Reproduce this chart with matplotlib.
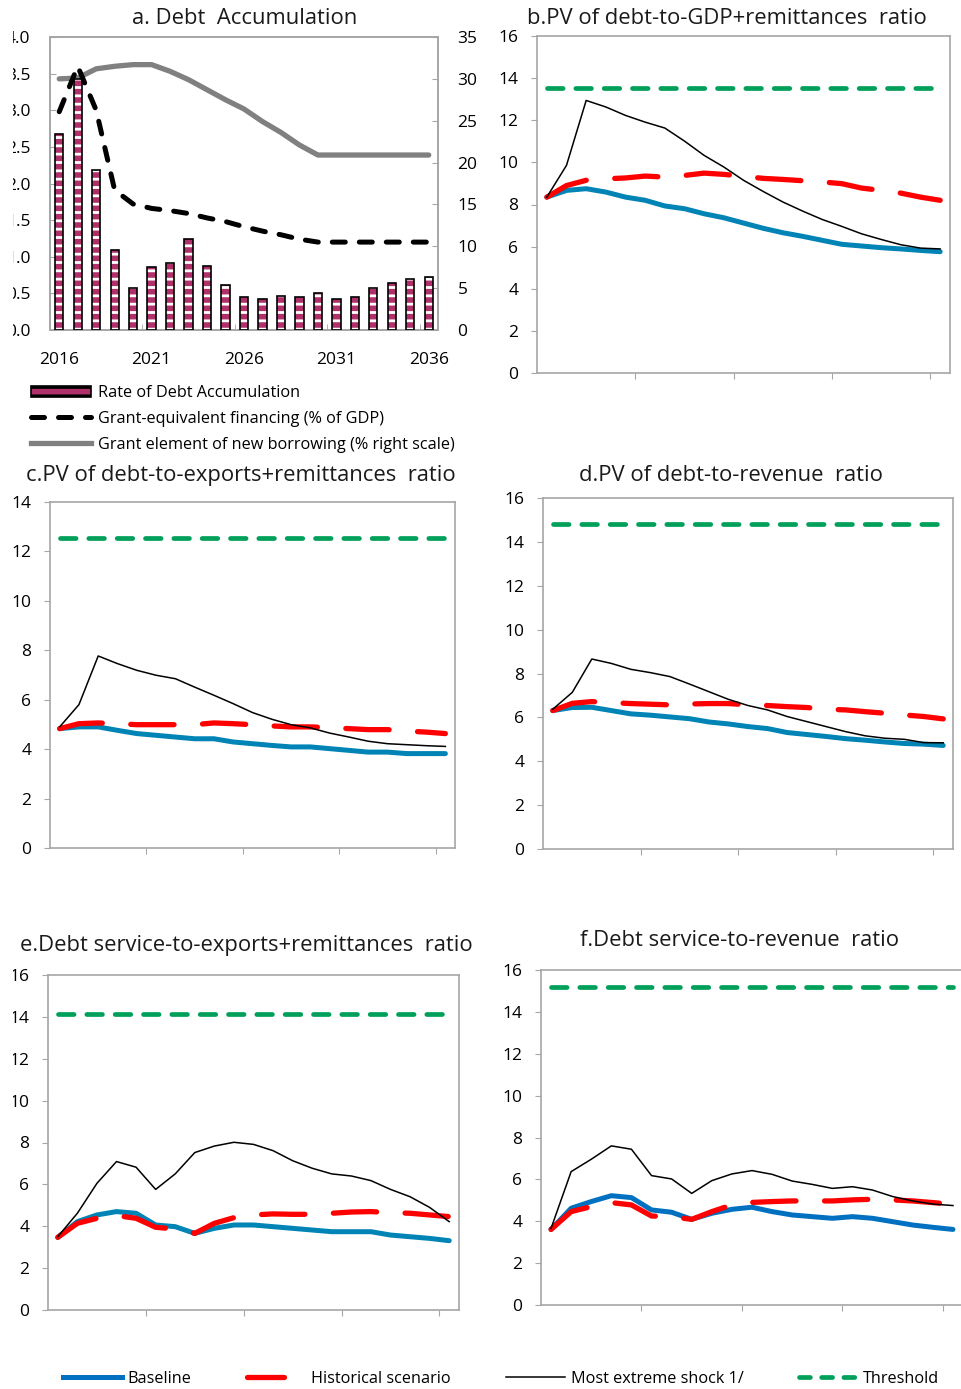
import numpy as np
import matplotlib
matplotlib.use("Agg")
import matplotlib.pyplot as plt
from matplotlib.lines import Line2D
from matplotlib.patches import Patch, Rectangle

plt.rcParams["font.family"] = ["Open Sans", "DejaVu Sans"]
plt.rcParams["hatch.linewidth"] = 2.0

# --- data ---
years = list(range(2016, 2037))

debt_accum = [2.67, 3.43, 2.19, 1.09, 0.57, 0.86, 0.92, 1.24, 0.88, 0.62, 0.45,
              0.42, 0.47, 0.45, 0.50, 0.42, 0.45, 0.57, 0.64, 0.69, 0.72]
grant_equiv = [2.98, 3.60, 3.00, 1.91, 1.72, 1.66, 1.63, 1.59, 1.53, 1.48, 1.41,
               1.35, 1.30, 1.24, 1.20, 1.20, 1.20, 1.20, 1.20, 1.20, 1.20]
grant_element = [30.0, 30.1, 31.2, 31.5, 31.7, 31.7, 30.9, 29.9, 28.7, 27.5, 26.4,
                 24.9, 23.6, 22.1, 20.9, 20.9, 20.9, 20.9, 20.9, 20.9, 20.9]

# b. PV of debt-to-GDP+remittances
b_base = [8.35, 8.67, 8.75, 8.59, 8.35, 8.20, 7.93, 7.80, 7.56, 7.37, 7.12,
          6.87, 6.66, 6.49, 6.30, 6.11, 6.03, 5.95, 5.89, 5.82, 5.76]
b_hist = [8.35, 8.90, 9.15, 9.22, 9.26, 9.35, 9.30, 9.38, 9.49, 9.43, 9.34,
          9.24, 9.19, 9.13, 9.07, 8.99, 8.78, 8.67, 8.54, 8.35, 8.20]
b_shock = [8.35, 9.86, 12.94, 12.63, 12.23, 11.91, 11.63, 11.01, 10.33, 9.78, 9.15,
           8.62, 8.12, 7.69, 7.29, 6.96, 6.61, 6.34, 6.09, 5.93, 5.89]
b_thr = 13.55

# c. PV of debt-to-exports+remittances
c_base = [4.83, 4.90, 4.90, 4.76, 4.63, 4.56, 4.49, 4.42, 4.42, 4.29, 4.22,
          4.15, 4.09, 4.09, 4.02, 3.95, 3.88, 3.88, 3.82, 3.82, 3.82]
c_hist = [4.83, 5.03, 5.06, 5.03, 4.99, 4.99, 4.99, 4.99, 5.06, 5.03, 4.99,
          4.94, 4.90, 4.90, 4.87, 4.83, 4.79, 4.79, 4.73, 4.69, 4.63]
c_shock = [4.90, 5.80, 7.77, 7.46, 7.19, 6.99, 6.85, 6.51, 6.18, 5.84, 5.48,
           5.21, 4.99, 4.86, 4.65, 4.49, 4.32, 4.22, 4.18, 4.14, 4.11]
c_thr = 12.54

# d. PV of debt-to-revenue
d_base = [6.31, 6.45, 6.46, 6.31, 6.16, 6.10, 6.02, 5.94, 5.79, 5.70, 5.58,
          5.49, 5.31, 5.22, 5.13, 5.03, 4.96, 4.88, 4.81, 4.78, 4.72]
d_hist = [6.31, 6.64, 6.72, 6.67, 6.63, 6.60, 6.57, 6.61, 6.63, 6.63, 6.57,
          6.54, 6.49, 6.45, 6.37, 6.34, 6.26, 6.19, 6.11, 6.04, 5.93]
d_shock = [6.37, 7.14, 8.66, 8.46, 8.19, 8.04, 7.86, 7.52, 7.17, 6.82, 6.54,
           6.34, 6.04, 5.81, 5.58, 5.35, 5.16, 5.05, 5.00, 4.85, 4.84]
d_thr = 14.83

# e. Debt service-to-exports+remittances
e_base = [3.47, 4.22, 4.54, 4.70, 4.62, 4.06, 3.98, 3.66, 3.90, 4.06, 4.06,
          3.98, 3.90, 3.82, 3.74, 3.74, 3.74, 3.58, 3.50, 3.42, 3.31]
e_hist = [3.47, 4.14, 4.38, 4.51, 4.38, 3.95, 3.87, 3.66, 4.14, 4.41, 4.54,
          4.59, 4.57, 4.57, 4.62, 4.68, 4.70, 4.65, 4.62, 4.54, 4.46]
e_shock = [3.50, 4.62, 6.05, 7.09, 6.82, 5.76, 6.50, 7.52, 7.83, 8.01, 7.91,
           7.61, 7.13, 6.77, 6.50, 6.40, 6.18, 5.76, 5.41, 4.90, 4.22]
e_thr = 14.12

# f. Debt service-to-revenue
f_base = [3.61, 4.62, 4.94, 5.22, 5.13, 4.54, 4.43, 4.09, 4.38, 4.57, 4.67,
          4.46, 4.30, 4.22, 4.14, 4.22, 4.14, 3.98, 3.82, 3.71, 3.61]
f_hist = [3.61, 4.46, 4.70, 4.89, 4.78, 4.25, 4.22, 4.09, 4.46, 4.78, 4.90,
          4.94, 4.97, 4.97, 4.97, 5.02, 5.05, 5.02, 4.97, 4.89, 4.81]
f_shock = [3.66, 6.37, 6.96, 7.60, 7.44, 6.18, 6.02, 5.33, 5.94, 6.26, 6.42,
           6.24, 5.92, 5.76, 5.57, 5.65, 5.49, 5.18, 4.97, 4.82, 4.75]
f_thr = 15.2

# --- layout helpers ---
W, H = 961, 1389
fig = plt.figure(figsize=(W / 100, H / 100), dpi=100)


def px_axes(left, top, right, bottom):
    return fig.add_axes([left / W, 1 - bottom / H, (right - left) / W, (bottom - top) / H])


SPINE = "#A6A6A6"
BLUE = "#0083B5"
BLUE_F = "#0070C0"
RED = "#FF0000"
GREEN = "#00A05A"
MAGENTA = "#B0306A"
TICK_FS = 12.5
TITLE_FS = 15.8
LEG_FS = 11.7

x = np.arange(len(years))


def style_axes(ax, ymax, step):
    for s in ax.spines.values():
        s.set_color(SPINE)
        s.set_linewidth(1.2)
    ax.set_xlim(-0.5, len(years) - 0.5)
    ax.set_ylim(0, ymax)
    ax.set_yticks(np.arange(0, ymax + 0.01, step))
    ax.set_xticks([4.5, 9.5, 14.5, 19.5])
    ax.set_xticklabels([])
    ax.tick_params(axis="y", direction="out", length=4, color=SPINE, pad=9.5,
                   labelsize=TICK_FS)
    ax.tick_params(axis="x", direction="out", length=4, color=SPINE)


def draw_panel(ax, base, hist, shock, thr, ymax, base_color=BLUE):
    style_axes(ax, ymax, 2)
    ax.plot(x, [thr] * len(x), color=GREEN, lw=3.4, dashes=(3.3, 2.7),
            dash_capstyle="round", zorder=2)
    ax.plot(x, base, color=base_color, lw=3.6, solid_capstyle="round", zorder=3)
    ax.plot(x, hist, color=RED, lw=3.8, dashes=(8.2, 5.4),
            dash_capstyle="round", zorder=4)
    ax.plot(x, shock, color="black", lw=1.1, zorder=5)


# --- panel a ---
axa = px_axes(50, 37, 438, 330)
axa2 = axa.twinx()
axa.set_zorder(axa2.get_zorder() + 1)
axa.patch.set_visible(False)

axa.bar(x, debt_accum, width=0.45, color=MAGENTA, edgecolor="white",
        hatch="--", linewidth=0, zorder=2)
axa.bar(x, debt_accum, width=0.45, facecolor="none", edgecolor="black",
        linewidth=1.2, zorder=3)
axa.plot(x, grant_equiv, color="black", lw=3.6, dashes=(2.6, 2.8),
         dash_capstyle="round", zorder=4)
axa2.plot(x, grant_element, color="#808080", lw=3.8, solid_capstyle="round")

for s in list(axa.spines.values()) + list(axa2.spines.values()):
    s.set_color(SPINE)
    s.set_linewidth(1.2)
axa.set_xlim(-0.5, len(years) - 0.5)
axa.set_ylim(0, 4)
axa.set_yticks(np.arange(0, 4.01, 0.5))
axa.set_yticklabels([f"{v:.1f}" for v in np.arange(0, 4.01, 0.5)])
axa2.set_ylim(0, 35)
axa2.set_yticks(range(0, 36, 5))
axa.set_xticks([0, 5, 10, 15, 20])
axa.set_xticklabels([str(years[i]) for i in [0, 5, 10, 15, 20]])
axa.set_xticks([4.5, 9.5, 14.5, 19.5], minor=True)
axa.tick_params(axis="y", direction="in", length=4, color=SPINE, pad=14,
                labelsize=TICK_FS)
axa2.tick_params(axis="y", direction="in", length=4, color=SPINE, pad=14,
                 labelsize=TICK_FS)
axa.tick_params(axis="x", which="major", length=0, pad=16, labelsize=TICK_FS)
axa.tick_params(axis="x", which="minor", direction="in", length=4, color=SPINE)

legend_a = [
    Patch(facecolor=MAGENTA, edgecolor="black", hatch="--", linewidth=1.2,
          label="Rate of Debt Accumulation"),
    Line2D([], [], color="black", lw=3.6, dashes=(2.6, 2.8),
           dash_capstyle="round", label="Grant-equivalent financing (% of GDP)"),
    Line2D([], [], color="#808080", lw=3.8, label="Grant element of new borrowing (% right scale)"),
]
fig.legend(handles=legend_a, loc="upper left", bbox_to_anchor=(23 / W, 1 - 377 / H),
           frameon=False, fontsize=LEG_FS, handlelength=3.7, handleheight=0.7,
           handletextpad=0.43, labelspacing=0.6, borderpad=0)

# --- panels b-f ---
axb = px_axes(537, 36, 950, 373)
draw_panel(axb, b_base, b_hist, b_shock, b_thr, 16)
axc = px_axes(50, 502, 455, 848)
draw_panel(axc, c_base, c_hist, c_shock, c_thr, 14)
axd = px_axes(543, 498, 953, 849)
draw_panel(axd, d_base, d_hist, d_shock, d_thr, 16)
axe = px_axes(48, 975, 459, 1310)
draw_panel(axe, e_base, e_hist, e_shock, e_thr, 16)
axf = px_axes(541, 970, 963, 1305)
draw_panel(axf, f_base, f_hist, f_shock, f_thr, 16, base_color=BLUE_F)

# --- titles ---
titles = [
    ("a. Debt  Accumulation", 245, 19),
    ("b.PV of debt-to-GDP+remittances  ratio", 727, 18),
    ("c.PV of debt-to-exports+remittances  ratio", 241, 476),
    ("d.PV of debt-to-revenue  ratio", 731, 476),
    ("e.Debt service-to-exports+remittances  ratio", 246, 945),
    ("f.Debt service-to-revenue  ratio", 740, 940),
]
for txt, cx, cy in titles:
    fig.text(cx / W, 1 - cy / H, txt, ha="center", va="center", fontsize=TITLE_FS,
             color="#1A1A1A")

# --- bottom legend ---
legend_b = [
    Line2D([], [], color=BLUE_F, lw=3.6, label="Baseline"),
    Line2D([], [], color=RED, lw=3.8, dashes=(7.0, 4.0), dash_capstyle="round",
           label="Historical scenario"),
    Line2D([], [], color="black", lw=1.1, label="Most extreme shock 1/"),
    Line2D([], [], color=GREEN, lw=3.4, dashes=(2.3, 2.4), dash_capstyle="round",
           label="Threshold"),
]
fig.legend(handles=legend_b, loc="center left", bbox_to_anchor=(55 / W, 1 - 1379 / H),
           ncol=4, frameon=False, fontsize=LEG_FS, handlelength=3.6,
           handletextpad=0.37, columnspacing=3.4, borderpad=0)

# the source image is trimmed on the left edge
fig.add_artist(Rectangle((0, 0), 13 / W, 1, transform=fig.transFigure,
                         facecolor="white", edgecolor="none", zorder=10))

fig.savefig("out.png", dpi=100, facecolor="white")
